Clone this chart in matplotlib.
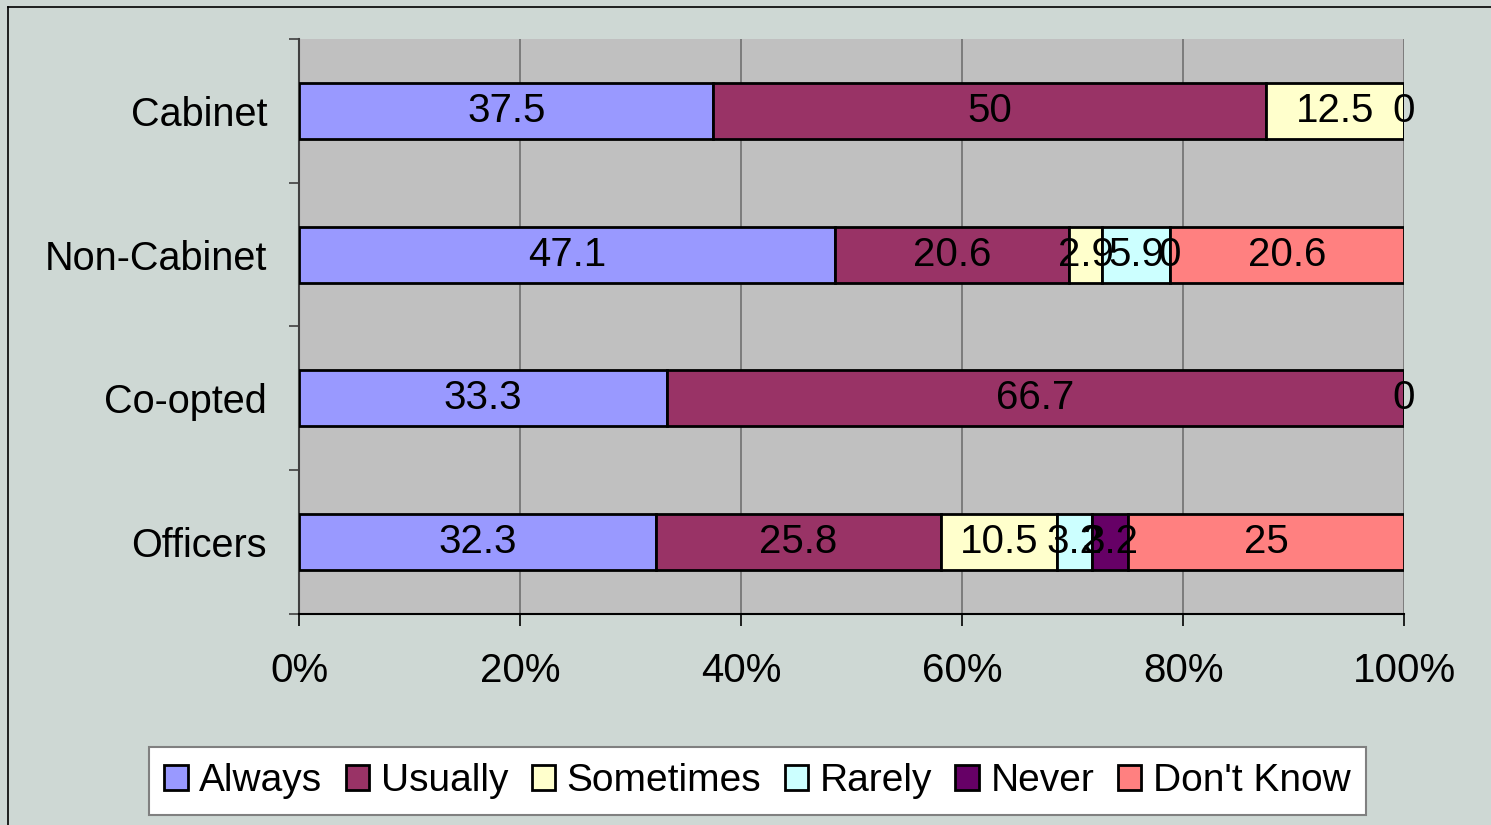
import numpy as np
import matplotlib.pyplot as plt
from matplotlib.lines import Line2D
from matplotlib.patches import Patch

plt.rcParams['font.family'] = ['Liberation Sans', 'DejaVu Sans']

groups = ['Cabinet', 'Non-Cabinet', 'Co-opted', 'Officers']
answers = ['Always', 'Usually', 'Sometimes', 'Rarely', 'Never', "Don't Know"]
colours = ['#9999FF', '#993366', '#FFFFCC', '#CCFFFF', '#660066', '#FF8080']

# nan = no value entered in the sheet
always     = [37.5, 47.1, 33.3, 32.3]
usually    = [50.0, 20.6, 66.7, 25.8]
sometimes  = [12.5, 2.9, 0.0, 10.5]
rarely     = [0.0, 5.9, np.nan, 3.2]
never      = [np.nan, 0.0, np.nan, 3.2]
dont_know  = [np.nan, 20.6, np.nan, 25.0]

series = [always, usually, sometimes, rarely, never, dont_know]
vals = np.array(series, dtype=float)
totals = np.nansum(vals, axis=0)

fig = plt.figure(figsize=(14.91, 8.25), dpi=100, facecolor='#CED8D4')
ax = fig.add_axes([0.2005, 0.2558, 0.7412, 0.6970])
ax.set_facecolor('#C0C0C0')

y = np.arange(len(groups))
left = np.zeros(len(groups))
for i, s in enumerate(series):
    v = np.array(s, dtype=float)
    pct = np.nan_to_num(v) / totals * 100
    ax.barh(y, pct, left=left, height=0.39, color=colours[i],
            edgecolor='black', linewidth=2, zorder=3)
    for j in range(len(groups)):
        if np.isnan(v[j]):
            continue
        txt = '%g' % v[j]
        ax.text(left[j] + pct[j] / 2, y[j], txt, ha='center', va='center',
                fontsize=29, zorder=5)
    left = left + pct

ax.set_xlim(0, 100)
ax.set_ylim(3.5, -0.5)
ax.set_xticks([0, 20, 40, 60, 80, 100])
ax.set_xticklabels(['%d%%' % t for t in [0, 20, 40, 60, 80, 100]])
ax.set_yticks(y)
ax.set_yticklabels(groups)
ax.set_yticks([-0.5, 0.5, 1.5, 2.5, 3.5], minor=True)
ax.tick_params(axis='y', which='major', length=0, pad=23, labelsize=28.5)
ax.tick_params(axis='y', which='minor', length=7, width=1.2, color='#404040')
ax.tick_params(axis='x', length=8.5, width=1.2, pad=19, labelsize=29, color='black')
ax.grid(axis='x', color='#707070', linewidth=1.2, zorder=1)
for side in ['top', 'right']:
    ax.spines[side].set_visible(False)
ax.spines['left'].set_color('#404040')
ax.spines['left'].set_linewidth(1.5)
ax.spines['bottom'].set_linewidth(1.5)

# outer chart border
fig.add_artist(Line2D([8 / 1491, 8 / 1491], [0, 1 - 7 / 825], color='black', lw=1.2))
fig.add_artist(Line2D([8 / 1491, 1], [1 - 7 / 825, 1 - 7 / 825], color='black', lw=1.2))

handles = [Patch(facecolor=c, edgecolor='black', linewidth=2) for c in colours]
leg = fig.legend(handles, answers, loc='center', bbox_to_anchor=(0.508, 0.0533),
                 ncol=6, fontsize=28, frameon=True, fancybox=False, framealpha=1,
                 handlelength=0.6, handleheight=0.6, handletextpad=0.3,
                 columnspacing=0.6, borderpad=0.4)
leg.get_frame().set_facecolor('white')
leg.get_frame().set_edgecolor('#808080')
leg.get_frame().set_linewidth(1.5)

fig.savefig('out.png', dpi=100, facecolor=fig.get_facecolor())
